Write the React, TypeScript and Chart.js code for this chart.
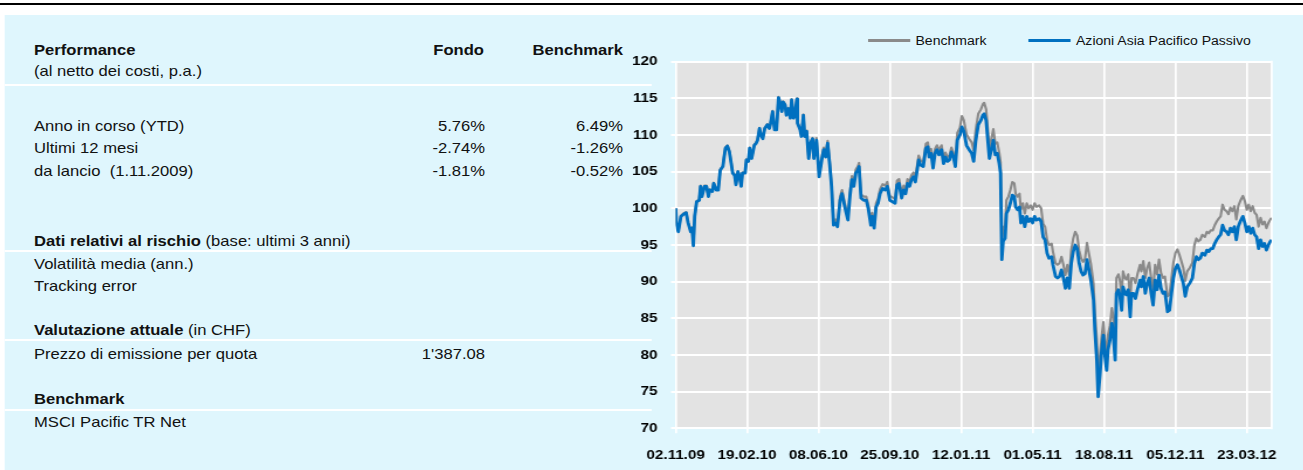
import React, { useEffect, useRef } from 'react';
import { Chart, registerables } from 'chart.js';

Chart.register(...registerables);

// x values: days since launch (day 0 = 02.11.2009)
const dayIndex = [
  0, 1, 4, 8, 12, 16, 19, 23, 25, 27,
  29, 32, 36, 38, 40, 44, 47, 50, 52, 56,
  58, 62, 65, 68, 72, 74, 76, 79, 82, 84,
  87, 90, 92, 95, 97, 100, 102, 106, 108, 111,
  113, 116, 120, 123, 125, 128, 130, 133, 136, 140,
  143, 145, 148, 151, 154, 157, 159, 162, 164, 167,
  169, 172, 175, 177, 180, 182, 185, 186, 190, 192,
  195, 197, 200, 203, 206, 209, 211, 215, 219, 223,
  226, 229, 232, 235, 238, 241, 244, 247, 251, 254,
  257, 260, 263, 266, 269, 272, 275, 278, 280, 283,
  287, 291, 294, 298, 300, 303, 306, 309, 312, 316,
  320, 323, 327, 331, 335, 338, 341, 345, 348, 351,
  354, 357, 360, 363, 366, 368, 371, 374, 378, 382,
  385, 387, 390, 393, 396, 399, 402, 406, 409, 412,
  415, 418, 421, 424, 427, 430, 434, 437, 440, 444,
  448, 452, 455, 458, 462, 466, 469, 471, 474, 476,
  479, 482, 485, 488, 491, 494, 496, 498, 500, 503,
  505, 508, 511, 514, 517, 519, 522, 525, 527, 530,
  533, 536, 539, 542, 545, 548, 551, 555, 558, 561,
  564, 567, 570, 574, 576, 580, 583, 586, 589, 592,
  595, 598, 601, 604, 607, 610, 613, 616, 619, 622,
  625, 628, 631, 634, 638, 640, 643, 645, 648, 650,
  653, 655, 658, 660, 663, 666, 668, 671, 673, 676,
  678, 681, 683, 686, 688, 691, 694, 696, 699, 702,
  705, 709, 711, 714, 717, 720, 723, 726, 729, 732,
  735, 738, 741, 744, 747, 751, 754, 757, 760, 763,
  766, 769, 772, 775, 778, 781, 785, 789, 792, 795,
  798, 801, 804, 808, 811, 814, 817, 820, 823, 826,
  829, 832, 835, 838, 841, 844, 847, 850, 853, 856,
  859, 862, 866, 869, 872, 875, 878, 881, 884, 887,
  890, 893, 896, 899, 902, 905, 908, 910,
];

const fundValues = [
  100.0, 98.0, 96.8, 98.9, 99.2, 99.4, 98.0, 96.8, 97.3, 94.9,
  98.9, 100.9, 101.1, 103.0, 101.6, 103.0, 103.0, 101.6, 102.5, 102.3,
  103.4, 102.5, 102.5, 105.2, 105.7, 107.0, 108.2, 108.5, 107.7, 106.6,
  104.8, 104.5, 103.2, 105.0, 104.5, 103.0, 104.8, 104.8, 106.6, 106.4,
  108.2, 106.8, 108.6, 108.9, 109.3, 110.9, 110.0, 109.5, 110.9, 111.4,
  110.9, 111.6, 113.2, 110.7, 110.7, 115.1, 114.5, 113.2, 114.5, 114.1,
  112.7, 113.6, 112.3, 114.8, 112.3, 112.7, 114.9, 111.6, 110.7, 109.8,
  112.7, 109.8, 110.5, 106.8, 108.9, 109.5, 106.8, 109.3, 104.3, 106.6,
  108.0, 107.0, 108.9, 106.1, 103.0, 97.7, 98.0, 97.5, 101.1, 102.0,
  100.7, 99.5, 98.4, 101.6, 103.9, 103.0, 104.8, 105.2, 105.7, 101.4,
  101.1, 101.1, 100.0, 97.7, 98.9, 97.3, 100.2, 100.7, 102.0, 102.7,
  102.5, 103.0, 101.1, 100.9, 100.7, 103.2, 103.4, 101.4, 102.5, 102.0,
  103.4, 103.0, 103.9, 104.3, 103.6, 104.8, 106.6, 105.9, 105.7, 108.2,
  108.4, 107.0, 107.5, 105.5, 107.5, 108.0, 107.3, 108.0, 106.1, 107.0,
  106.4, 106.6, 107.7, 107.0, 105.7, 109.3, 110.0, 111.1, 110.5, 108.6,
  108.0, 107.5, 106.4, 109.1, 111.4, 112.0, 112.7, 112.9, 112.0, 109.8,
  106.8, 108.0, 109.3, 107.3, 107.5, 106.1, 104.8, 93.0, 95.5, 95.9,
  99.3, 99.8, 100.7, 101.8, 101.6, 100.2, 99.8, 100.2, 98.0, 98.9,
  97.5, 98.9, 98.2, 98.6, 98.0, 98.9, 98.4, 98.6, 98.2, 96.1,
  95.7, 93.9, 93.2, 93.4, 92.3, 90.7, 90.5, 90.7, 91.6, 90.5,
  89.1, 90.5, 89.1, 92.5, 94.1, 95.0, 94.5, 92.5, 91.4, 90.9,
  91.1, 93.0, 91.6, 90.2, 87.5, 83.4, 79.3, 74.3, 77.5, 80.2,
  82.7, 80.2, 77.9, 80.7, 82.0, 84.3, 83.0, 79.3, 88.4, 88.9,
  88.2, 86.1, 89.3, 88.4, 88.2, 88.9, 85.2, 88.4, 88.4, 87.7,
  88.9, 90.2, 89.3, 90.7, 88.4, 89.8, 90.5, 88.4, 86.8, 90.2,
  88.9, 90.9, 89.1, 88.4, 88.6, 85.9, 86.1, 88.4, 90.5, 91.8,
  92.3, 91.6, 90.7, 89.8, 88.0, 89.3, 89.8, 90.5, 92.5, 93.4,
  93.0, 93.2, 93.9, 93.6, 94.3, 94.1, 94.5, 94.5, 95.2, 95.7,
  96.1, 96.4, 97.7, 97.0, 96.8, 96.4, 97.3, 96.8, 97.5, 95.7,
  97.5, 98.2, 98.9, 98.0, 96.8, 97.5, 96.6, 97.3, 96.4, 96.1,
  94.5, 95.7, 94.8, 95.2, 94.3, 95.0, 95.5, 95.7,
];

const benchmarkValues = [
  100.0, 98.1, 96.9, 99.0, 99.3, 99.5, 98.1, 96.9, 97.4, 95.0,
  99.0, 101.0, 101.2, 103.1, 101.7, 103.1, 103.1, 101.7, 102.6, 102.4,
  103.5, 102.6, 102.6, 105.3, 105.8, 107.1, 108.3, 108.6, 107.8, 106.7,
  104.9, 104.6, 103.3, 105.1, 104.6, 103.1, 104.9, 104.9, 106.7, 106.5,
  108.3, 106.9, 108.7, 109.0, 109.4, 111.0, 110.1, 109.6, 111.0, 111.5,
  111.0, 111.7, 113.3, 110.8, 110.8, 115.2, 114.6, 113.3, 114.6, 114.2,
  112.8, 113.7, 112.4, 114.9, 112.4, 112.8, 115.0, 111.7, 110.8, 109.9,
  112.8, 109.9, 110.6, 106.9, 109.0, 109.6, 106.9, 109.6, 104.6, 106.9,
  108.3, 107.3, 109.2, 106.4, 103.3, 98.2, 98.5, 98.0, 101.6, 102.5,
  101.2, 100.0, 98.9, 102.1, 104.4, 103.5, 105.3, 105.7, 106.2, 101.9,
  101.6, 101.6, 100.5, 98.2, 99.4, 97.8, 100.7, 101.3, 102.6, 103.3,
  103.1, 103.6, 101.7, 101.5, 101.3, 103.8, 104.0, 102.0, 103.1, 102.6,
  104.0, 103.6, 104.5, 104.9, 104.2, 105.4, 107.2, 106.5, 106.3, 108.8,
  109.0, 107.6, 108.1, 106.1, 108.1, 108.6, 107.9, 108.6, 106.7, 107.6,
  107.0, 107.2, 108.3, 107.6, 106.3, 110.3, 111.0, 112.6, 112.0, 110.1,
  109.5, 109.0, 107.9, 110.6, 112.9, 113.5, 114.2, 114.4, 113.5, 111.3,
  108.3, 109.5, 110.8, 108.8, 109.0, 107.6, 106.3, 95.5, 97.3, 97.7,
  101.1, 101.6, 102.5, 103.6, 103.4, 102.0, 101.6, 102.0, 99.8, 100.7,
  99.3, 100.7, 100.0, 100.4, 99.8, 100.7, 100.2, 100.4, 100.0, 97.9,
  97.5, 95.7, 95.0, 95.2, 94.1, 92.5, 92.3, 92.5, 93.4, 92.3,
  90.9, 92.3, 90.9, 94.3, 95.9, 96.8, 96.3, 94.3, 93.2, 92.7,
  93.1, 95.3, 93.8, 92.4, 89.7, 85.9, 82.1, 77.6, 80.1, 82.2,
  84.5, 82.2, 80.2, 82.7, 84.0, 86.4, 85.3, 82.0, 90.5, 91.0,
  90.3, 88.2, 91.4, 90.5, 90.3, 91.0, 87.3, 90.5, 90.5, 89.8,
  91.0, 92.3, 91.4, 92.8, 90.5, 91.9, 92.6, 90.5, 88.9, 92.3,
  91.0, 93.0, 91.2, 90.5, 90.7, 88.0, 88.2, 90.5, 92.6, 93.9,
  94.4, 93.7, 92.8, 91.9, 90.1, 91.4, 91.9, 92.6, 95.0, 95.9,
  95.5, 95.7, 96.4, 96.1, 96.8, 96.6, 97.0, 97.0, 97.7, 98.2,
  98.6, 98.9, 100.5, 99.8, 99.6, 99.2, 100.1, 99.6, 100.3, 98.5,
  100.3, 101.0, 101.7, 101.0, 99.8, 100.5, 99.6, 100.3, 99.4, 99.1,
  97.5, 98.7, 97.8, 98.2, 97.3, 98.0, 98.5, 98.7,
];

const xTickDays = [0, 109, 218, 327, 436, 545, 654, 763, 872];
const xTickLabels = ['02.11.09', '19.02.10', '08.06.10', '25.09.10', '12.01.11', '01.05.11', '18.08.11', '05.12.11', '23.03.12'];
const xMaxDay = 910;
const yMin = 70;
const yMax = 120;
const yStep = 5;

const seriesNames = ['Benchmark', 'Azioni Asia Pacifico Passivo'];

const perfRows = [
  ['Anno in corso (YTD)', '5.76%', '6.49%'],
  ['Ultimi 12 mesi', '-2.74%', '-1.26%'],
  ['da lancio  (1.11.2009)', '-1.81%', '-0.52%'],
];

const S = 1.17; // horizontal stretch of the reference
const PAGE_W = 1303 / S;
const FONT = '"Liberation Sans", Arial, Helvetica, sans-serif';
const BLUE = '#0070c0';
const GRAY = '#8a8a8a';
const CYAN = '#dff6fd';

const ux = (x: number) => x / S;

function T(props: { x: number; b: number; size?: number; bold?: boolean; align?: 'left' | 'right'; children: any }) {
  const size = props.size ?? 14.2;
  const top = props.b - size * 0.8465;
  const w = 300;
  const right = props.align === 'right';
  return (
    <div
      style={{
        position: 'absolute',
        top,
        left: right ? ux(props.x) - w : ux(props.x),
        width: w,
        textAlign: right ? 'right' : 'left',
        whiteSpace: 'pre',
        fontSize: size,
        lineHeight: `${size}px`,
        fontWeight: props.bold ? 700 : 400,
      }}
    >
      {props.children}
    </div>
  );
}

function Rule({ y }: { y: number }) {
  return <div style={{ position: 'absolute', left: ux(5), top: y, width: ux(652) - ux(5), height: 2, background: '#fff' }} />;
}

const plotBg = {
  id: 'plotBg',
  beforeDraw(chart: any) {
    const { ctx, chartArea: a } = chart;
    ctx.save();
    ctx.fillStyle = '#e3e3e3';
    ctx.fillRect(a.left, a.top, a.right - a.left, a.bottom - a.top);
    ctx.strokeStyle = '#ffffff';
    ctx.lineWidth = 1.7;
    ctx.beginPath();
    ctx.moveTo(a.right, a.top - 1);
    ctx.lineTo(a.right, a.bottom + 1);
    ctx.stroke();
    ctx.restore();
  },
};

function PerfChart() {
  const ref = useRef<HTMLCanvasElement | null>(null);
  useEffect(() => {
    if (!ref.current) return;
    const tickFont = { family: FONT, size: 13, weight: 'bold' };
    const chart = new Chart(ref.current, {
      type: 'line',
      data: {
        datasets: [
          {
            label: seriesNames[1],
            data: dayIndex.map((d, i) => ({ x: d, y: fundValues[i] })),
            borderColor: BLUE,
            borderWidth: 2.8,
            pointRadius: 0,
            tension: 0,
            borderJoinStyle: 'round',
          },
          {
            label: seriesNames[0],
            data: dayIndex.map((d, i) => ({ x: d, y: benchmarkValues[i] })),
            borderColor: GRAY,
            borderWidth: 2.1,
            pointRadius: 0,
            tension: 0,
            borderJoinStyle: 'round',
          },
        ],
      },
      options: {
        responsive: false,
        devicePixelRatio: 1,
        animation: false,
        layout: { padding: { top: 41.7, right: 26.1, bottom: 0, left: 0 } },
        plugins: { legend: { display: false }, tooltip: { enabled: false } },
        scales: {
          x: {
            type: 'linear',
            min: 0,
            max: xMaxDay,
            afterBuildTicks: (scale: any) => {
              scale.ticks = xTickDays.map((v) => ({ value: v }));
            },
            afterFit: (scale: any) => {
              scale.height = 41.7;
            },
            ticks: {
              autoSkip: false,
              maxRotation: 0,
              minRotation: 0,
              padding: 14,
              color: '#000',
              font: tickFont,
              callback: (_v: any, i: number) => xTickLabels[i] ?? '',
            },
            grid: { color: '#ffffff', lineWidth: 1.7, tickLength: 5, drawTicks: true },
            border: { display: false },
          },
          y: {
            min: yMin,
            max: yMax,
            afterFit: (scale: any) => {
              scale.width = 77.5;
            },
            ticks: { stepSize: yStep, padding: 11.5, color: '#000', font: tickFont },
            grid: { color: '#ffffff', lineWidth: 2, tickLength: 4, drawTicks: true },
            border: { display: false },
          },
        },
      },
      plugins: [plotBg],
    } as any);
    return () => chart.destroy();
  }, []);
  return (
    <canvas
      ref={ref}
      width={613}
      height={450}
      style={{ position: 'absolute', left: 500, top: 20, width: 613, height: 450 }}
    />
  );
}

export default function App() {
  const perfBase = [131, 153.5, 176.5];
  return (
    <>
      <style>{'html,body{margin:0;padding:0;overflow:hidden;background:#fff;}'}</style>
      <div
        style={{
          position: 'absolute',
          left: 0,
          top: 0,
          width: PAGE_W,
          height: 470,
          overflow: 'hidden',
          transform: `scaleX(${S})`,
          transformOrigin: '0 0',
          fontFamily: FONT,
          color: '#111',
        }}
      >
        <div style={{ position: 'absolute', left: 0, top: 3, width: PAGE_W, height: 1.7, background: '#000' }} />
        <div style={{ position: 'absolute', left: ux(5), top: 15, width: PAGE_W - ux(5), height: 455, background: CYAN }} />

        <Rule y={84} />
        <Rule y={250} />
        <Rule y={339} />
        <Rule y={409} />

        <T x={34} b={55.5} bold>Performance</T>
        <T x={484} b={55.5} bold align="right">Fondo</T>
        <T x={623} b={55.5} bold align="right">Benchmark</T>
        <T x={34} b={76.5}>(al netto dei costi, p.a.)</T>

        {perfRows.map((r, i) => (
          <React.Fragment key={r[0]}>
            <T x={34} b={perfBase[i]}>{r[0]}</T>
            <T x={485} b={perfBase[i]} align="right">{r[1]}</T>
            <T x={623} b={perfBase[i]} align="right">{r[2]}</T>
          </React.Fragment>
        ))}

        <T x={34} b={246.5}>
          <b>Dati relativi al rischio</b> (base: ultimi 3 anni)
        </T>
        <T x={34} b={269.5}>Volatilità media (ann.)</T>
        <T x={34} b={291.5}>Tracking error</T>

        <T x={34} b={335.5}>
          <b>Valutazione attuale</b> (in CHF)
        </T>
        <T x={34} b={359.5}>Prezzo di emissione per quota</T>
        <T x={485} b={359.5} align="right">1'387.08</T>

        <T x={34} b={404.5} bold>Benchmark</T>
        <T x={34} b={427.5}>MSCI Pacific TR Net</T>

        {/* legend */}
        <div style={{ position: 'absolute', left: ux(868), top: 39, width: ux(910) - ux(868), height: 2.5, background: GRAY }} />
        <T x={915.5} b={45.5} size={12}>{seriesNames[0]}</T>
        <div style={{ position: 'absolute', left: ux(1028), top: 38.8, width: ux(1070) - ux(1028), height: 3, background: BLUE }} />
        <T x={1076} b={45.5} size={12}>{seriesNames[1]}</T>

        <PerfChart />
      </div>
    </>
  );
}
